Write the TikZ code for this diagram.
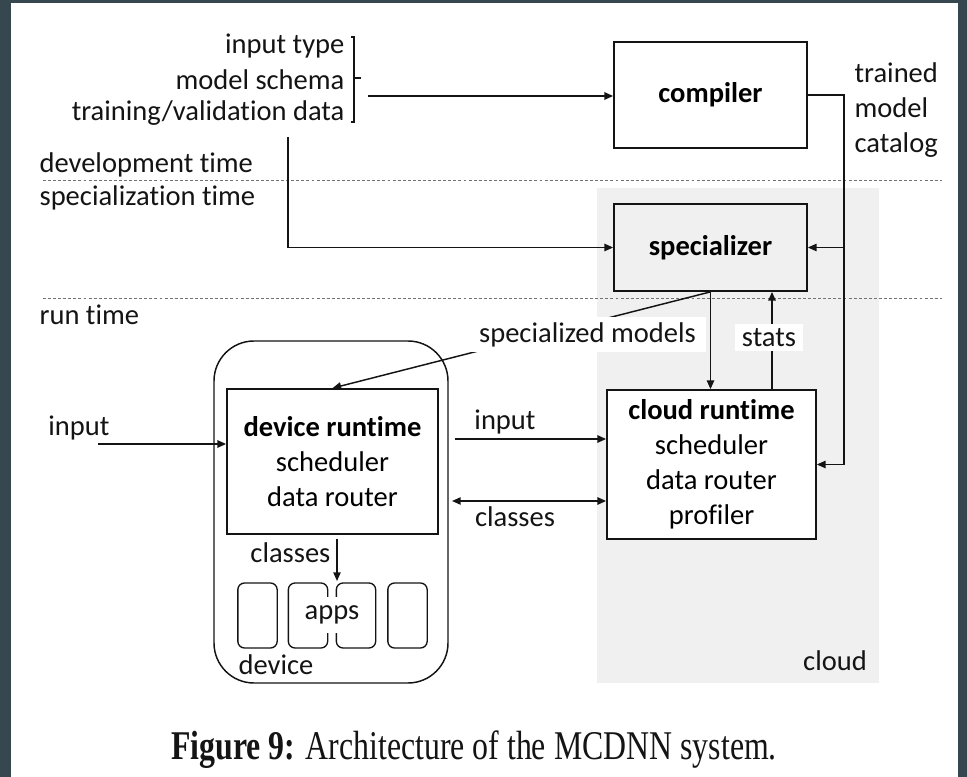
\documentclass[tikz,border=0pt]{standalone}
\usepackage{fontspec}
\setmainfont{Carlito}[Ligatures=NoCommon]
\newfontfamily\capfont{Liberation Serif}
\usetikzlibrary{arrows.meta,calc}
\definecolor{frame}{RGB}{55,71,79}
\definecolor{cloudgray}{RGB}{240,240,240}
\definecolor{ink}{RGB}{20,20,20}
\tikzset{
  box/.style={draw=ink, line width=1.3pt, inner sep=0pt, align=center},
  arr/.style={-{Triangle[length=6.5pt,width=5.5pt]}, line width=1.1pt, draw=ink},
  darr/.style={{Triangle[length=6.5pt,width=5.5pt]}-{Triangle[length=6.5pt,width=5.5pt]}, line width=1.1pt, draw=ink},
  dl/.style={draw=black!55, line width=0.7pt, dash pattern=on 2.2pt off 1.6pt},
  appbox/.style={draw=ink, line width=1pt, rounded corners=5pt, minimum width=29.5pt, minimum height=48.75pt, inner sep=0pt},
  txt/.style={inner sep=1pt, text=ink},
}
\begin{document}
\begin{tikzpicture}[x=0.75pt,y=-0.75pt, font=\fontsize{21.4}{26.25}\selectfont]
\fill[frame] (0,0) rectangle (967,777);
\fill[white] (11,3) rectangle (958,777);
\useasboundingbox (0,0) rectangle (967,777);
% cloud region
\fill[cloudgray] (597,188) rectangle (879,683);
% time separators
\draw[dl] (43,180) -- (942,180);
\draw[dl] (43,298) -- (942,298);
\node[txt, anchor=west] (dev) at (38,165) {development time};
\node[txt, anchor=west] (spt) at (38,198) {specialization time};
\node[txt, anchor=west] (rt) at (38,315) {run time};
% inputs
\node[txt, anchor=east] (it) at (346,46) {input type};
\node[txt, anchor=east] (ms) at (346,80) {model schema};
\node[txt, anchor=east] (tvd) at (346,113) {training/validation data};
\draw[ink, line width=0.9pt] (351,37) -- (354,37) -- (354,122) -- (351,122);
\draw[ink, line width=0.9pt] (354,78) -- (361,78);
% boxes
\node[box, minimum width=144.75pt, minimum height=79.5pt] (comp) at (710.5,95) {\textbf{compiler}};
\node[box, fill=cloudgray, minimum width=144.75pt, minimum height=65.25pt] (spec) at (710.5,247.5) {\textbf{specializer}};
\node[box, fill=white, minimum width=156.75pt, minimum height=111.75pt] (crt) at (711.5,464.5) {\textbf{cloud runtime}\\scheduler\\data router\\profiler};
\node[draw=ink, line width=1.1pt, rounded corners=30pt, minimum width=175.5pt, minimum height=256.5pt] (devbox) at (331,512) {};
\node[box, fill=white, minimum width=158.25pt, minimum height=108.75pt] (drt) at (332.5,461.5) {\textbf{device runtime}\\scheduler\\data router};
\node[txt, align=left, anchor=west] (cat) at (853,110) {trained\\model\\catalog};
% apps
\node[appbox] (a1) at (257.5,615.5) {};
\node[appbox] (a2) at (308,615.5) {};
\node[appbox] (a3) at (356,615.5) {};
\node[appbox] (a4) at (407.5,615.5) {};
\node[txt, fill=white, inner xsep=1pt, inner ysep=6.5pt] (apps) at (332,615) {apps};
\node[txt, anchor=east] (cls2) at (332,553) {classes};
\coordinate (c1) at (337,539);
\coordinate (c2) at (337,581);
\draw[arr] (c1) -- (c2);
\node[txt] (devlbl) at (276,665) {device};
\node[txt] (cloudlbl) at (835,661) {cloud};
% connectors
\coordinate (br) at (368,96);
\draw[arr] (br) -- (br -| comp.west);
\coordinate (tv) at (288,137);
\draw[arr] (tv) |- (spec.west);
\coordinate (catc) at (844,95);
\draw[arr] (comp.east) -- (catc) |- (crt.east);
\draw[arr] (catc |- spec.east) -- (spec.east);
\draw[arr] (spec.south) -- (drt.north);
\draw[arr] (spec.south) -- (spec.south |- crt.north);
\coordinate (st) at (772,300);
\draw[arr] (st |- crt.north) -- (st |- spec.south);
\node[txt, fill=white, inner xsep=7.5pt, inner ysep=4pt] (smlab) at (587.5,334.5) {specialized models};
\node[txt, fill=white, inner xsep=5pt, inner ysep=3pt] (stlab) at (769,337.5) {stats};
\coordinate (i1) at (455,439);
\draw[arr] (i1) -- (i1 -| crt.west);
\node[txt] (inlab) at (505,422) {input};
\coordinate (cl1) at (452,501);
\draw[darr] (cl1) -- (cl1 -| crt.west);
\node[txt] (cllab) at (515,517) {classes};
\coordinate (li) at (98,444);
\draw[arr] (li) -- (li -| drt.west);
\node[txt] (inlab2) at (79,428) {input};
% caption
\node[txt] (cap) at (474,750) {\scalebox{0.78}[1]{\capfont\fontsize{30.6}{32}\selectfont\textbf{Figure 9:} Architecture of the MCDNN system.}};
\end{tikzpicture}
\end{document}
